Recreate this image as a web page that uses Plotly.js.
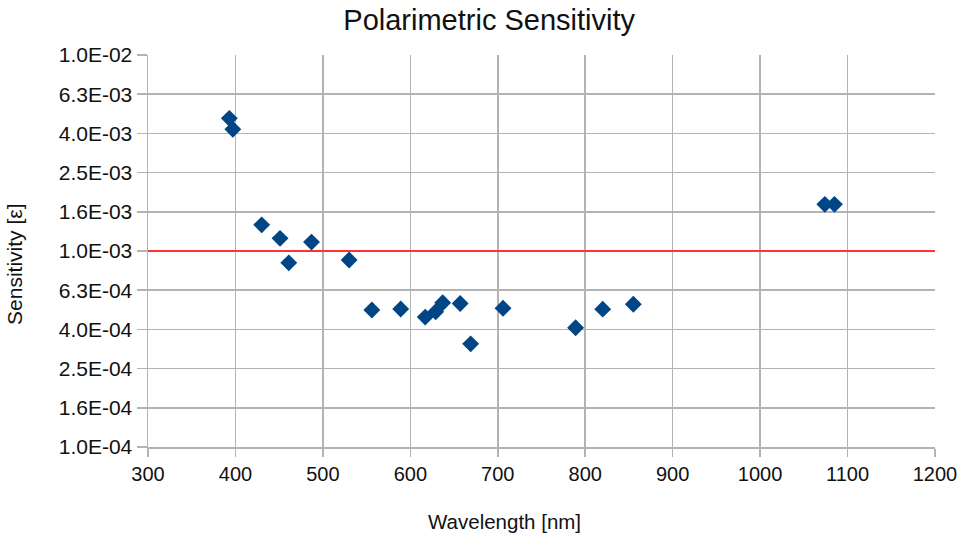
<!DOCTYPE html>
<html>
<head>
<meta charset="utf-8">
<script src="https://cdn.plot.ly/plotly-3.0.1.min.js"></script>
<style>html,body{margin:0;padding:0;background:#fff;}#chart{width:961px;height:534px;}</style>
</head>
<body>
<div id="chart"></div>
<script>
// Wavelength [nm] of each measurement
const wavelength = [393, 397, 430, 451, 461, 487, 530, 556, 589, 617, 629, 637, 657, 669, 706, 789, 820, 855, 1074, 1085];
// Polarimetric sensitivity values
const sensitivity = [4.75e-3, 4.18e-3, 1.36e-3, 1.16e-3, 8.7e-4, 1.11e-3, 9.0e-4, 5.0e-4, 5.06e-4, 4.6e-4, 4.9e-4, 5.44e-4, 5.4e-4, 3.36e-4, 5.1e-4, 4.06e-4, 5.05e-4, 5.35e-4, 1.73e-3, 1.73e-3];
// Requirement line
const limitX = [300, 1200];
const limitY = [1e-3, 1e-3];
// Y tick positions and labels
const yTickVals = [1e-4, 1.585e-4, 2.512e-4, 3.981e-4, 6.31e-4, 1e-3, 1.585e-3, 2.512e-3, 3.981e-3, 6.31e-3, 1e-2];
const yTickText = ["1.0E-04", "1.6E-04", "2.5E-04", "4.0E-04", "6.3E-04", "1.0E-03", "1.6E-03", "2.5E-03", "4.0E-03", "6.3E-03", "1.0E-02"];
const xTickVals = [300, 400, 500, 600, 700, 800, 900, 1000, 1100, 1200];

const font = "Liberation Sans, Arial, sans-serif";

const traces = [
  {
    x: limitX, y: limitY, type: "scatter", mode: "lines",
    line: {color: "#ff3333", width: 2}, hoverinfo: "skip", showlegend: false, cliponaxis: true
  },
  {
    x: wavelength, y: sensitivity, type: "scatter", mode: "markers",
    marker: {symbol: "diamond", size: 13, color: "#004586", line: {width: 0}},
    showlegend: false, cliponaxis: false
  }
];

const layout = {
  width: 961, height: 534,
  margin: {l: 148, r: 26, t: 55, b: 87, pad: 0},
  paper_bgcolor: "#ffffff", plot_bgcolor: "#ffffff",
  font: {family: font, color: "#111111"},
  title: {
    text: "Polarimetric Sensitivity",
    font: {family: font, size: 29, color: "#111111"},
    x: 0.509, xanchor: "center", xref: "container",
    y: 0.962, yanchor: "middle", yref: "container"
  },
  xaxis: {
    range: [300, 1200], tickvals: xTickVals, ticktext: xTickVals.map(String),
    showgrid: true, gridcolor: "#b3b3b3", gridwidth: 1.5,
    showline: true, linecolor: "#b3b3b3", linewidth: 1.5, mirror: false,
    ticks: "outside", ticklen: 8, tickcolor: "#b3b3b3", tickwidth: 1.5,
    tickfont: {family: font, size: 20, color: "#111111"},
    zeroline: false
  },
  yaxis: {
    type: "log", range: [-4, -2],
    tickvals: yTickVals, ticktext: yTickText,
    showgrid: true, gridcolor: "#b3b3b3", gridwidth: 1.5,
    showline: true, linecolor: "#b3b3b3", linewidth: 1.5,
    ticks: "outside", ticklen: 10, tickcolor: "#b3b3b3", tickwidth: 1.5,
    tickfont: {family: font, size: 21, color: "#111111"},
    zeroline: false
  },
  annotations: [
    {
      text: "Wavelength [nm]", xref: "paper", yref: "paper",
      x: 0.453, y: -0.189, xanchor: "center", yanchor: "middle",
      showarrow: false, font: {family: font, size: 20.5, color: "#111111"}
    },
    {
      text: "Sensitivity [ε]", xref: "paper", yref: "paper",
      x: -0.169, y: 0.467, xanchor: "center", yanchor: "middle", textangle: -90,
      showarrow: false, font: {family: font, size: 21, color: "#111111"}
    }
  ]
};

Plotly.newPlot("chart", traces, layout, {staticPlot: true, displayModeBar: false});
</script>
</body>
</html>
